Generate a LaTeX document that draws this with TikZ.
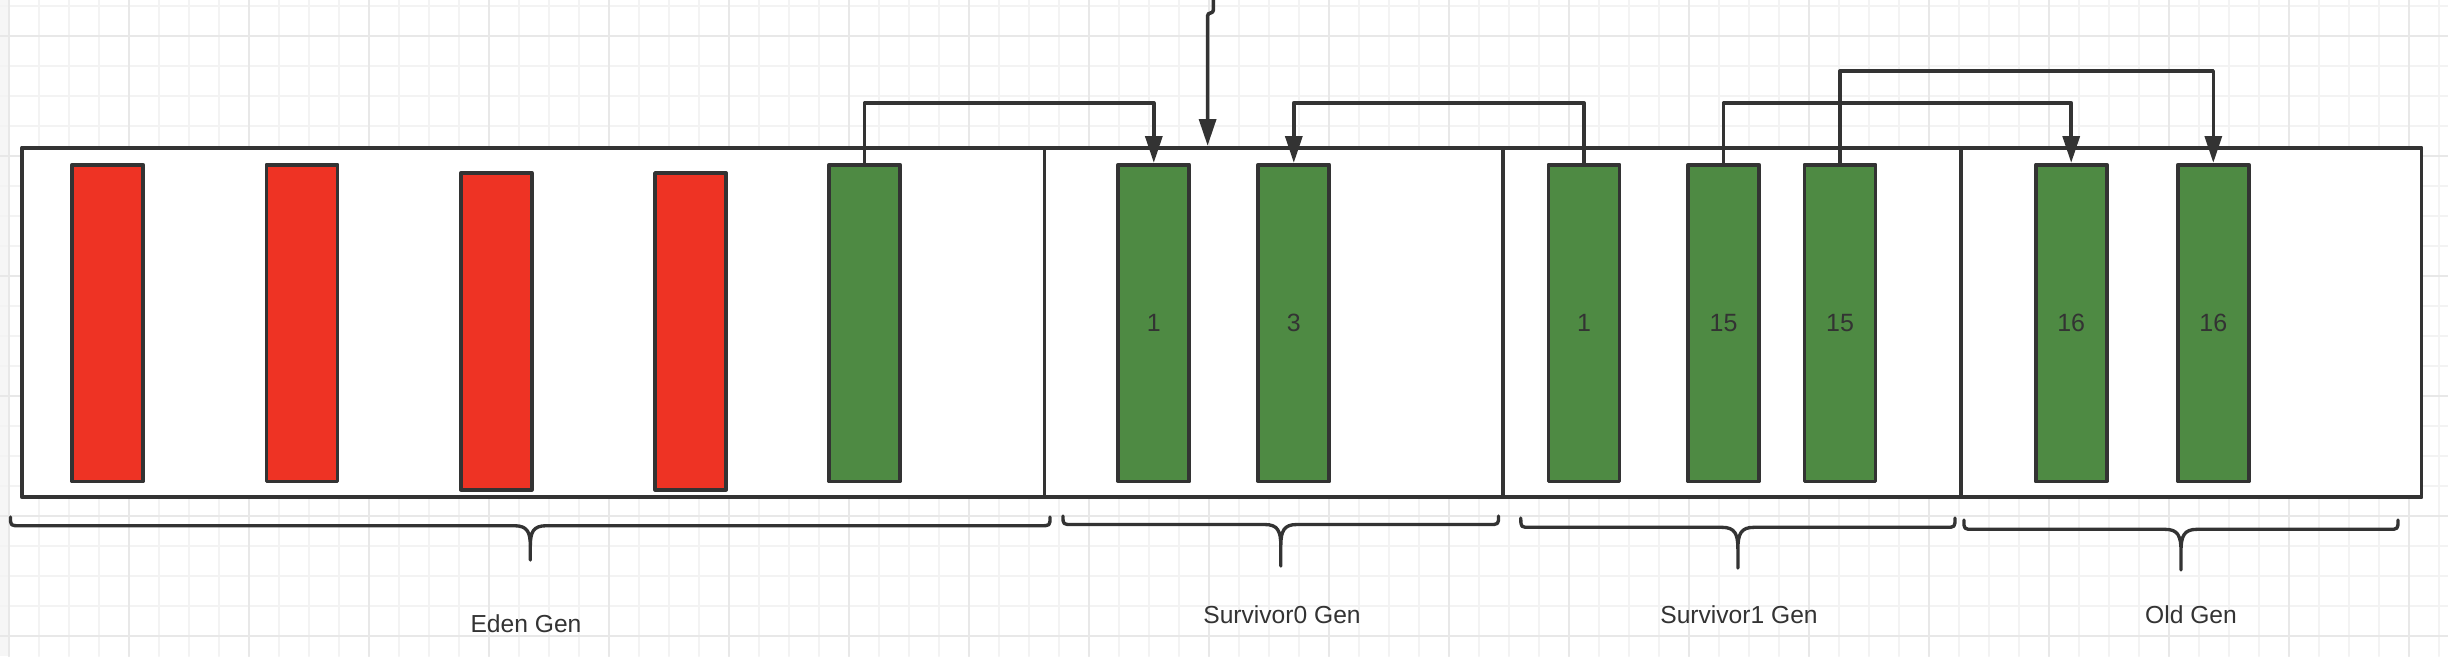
\documentclass[tikz,border=0pt]{standalone}
\usepackage{fontspec}
\setmainfont{Liberation Sans}
\usetikzlibrary{arrows.meta}
\definecolor{stroke}{RGB}{51,51,51}
\definecolor{deadred}{RGB}{238,51,36}
\definecolor{livegreen}{RGB}{78,138,67}
\definecolor{gridlight}{RGB}{243,243,243}
\definecolor{griddark}{RGB}{232,232,232}
\begin{document}
\begin{tikzpicture}[x=0.01cm,y=-0.01cm,line cap=round,line join=round,
  >={Triangle[length=7.6pt,width=4.8pt]},
  gridminor/.style={line width=0.55pt,draw=gridlight},
  gridmajor/.style={line width=0.6pt,draw=griddark},
  section/.style={draw=stroke,fill=white,line width=1.05pt,inner sep=0pt,minimum height=3.493cm},
  bar/.style={draw=stroke,line width=1.05pt,inner sep=0pt,minimum width=0.71cm,minimum height=3.165cm,text=stroke,font=\fontsize{7.1}{8}\selectfont},
  dead/.style={bar,fill=deadred},
  live/.style={bar,fill=livegreen},
  link/.style={draw=stroke,line width=1pt,->},
  brace/.style={draw=stroke,line width=0.95pt},
  genlabel/.style={text=stroke,font=\fontsize{7}{8}\selectfont}]
  \useasboundingbox (0,0) rectangle (2448,656);
  % grid paper
  \fill[white] (0,0) rectangle (2448,656);
  \fill[gray!7] (0,0) rectangle (8,656);
  \foreach \gx in {9.3,39.3,...,2440} \draw[gridminor] (\gx,0) -- (\gx,656);
  \foreach \gy in {6,36,...,650} \draw[gridminor] (0,\gy) -- (2448,\gy);
  \foreach \gx in {9.3,129.3,...,2440} \draw[gridmajor] (\gx,0) -- (\gx,656);
  \foreach \gy in {36,156,...,650} \draw[gridmajor] (0,\gy) -- (2448,\gy);
  % heap sections
  \node[section,minimum width=10.225cm] (eden) at (533.3,322.4) {};
  \node[section,minimum width=4.589cm] (surv0) at (1274,322.4) {};
  \node[section,minimum width=4.576cm] (surv1) at (1732.2,322.4) {};
  \node[section,minimum width=4.604cm] (old) at (2191.2,322.4) {};
  % objects
  \node[dead] (eden1) at (107.7,323) {};
  \node[dead] (eden2) at (302,323) {};
  \node[dead] (eden3) at (496.3,331.3) {};
  \node[dead] (eden4) at (690.6,331.3) {};
  \node[live] (eden5) at (864.6,323) {};
  \node[live] (s0a) at (1153.8,323) {1};
  \node[live] (s0b) at (1293.8,323) {3};
  \node[live] (s1a) at (1584,323) {1};
  \node[live] (s1b) at (1723.6,323) {15};
  \node[live] (s1c) at (1840,323) {15};
  \node[live] (olda) at (2071.2,323) {16};
  \node[live] (oldb) at (2213.3,323) {16};
  % copies
  \coordinate (feed) at (1213.3,0);
  \coordinate (feedbend) at (1207.6,13);
  \draw[link,rounded corners=0.8pt] (feed) |- (feedbend) -- (feedbend |- surv0.north);
  \draw[link] (eden5.north) -- ++(0,-60) -| (s0a.north);
  \draw[link] (s1a.north) -- ++(0,-60) -| (s0b.north);
  \draw[link] (s1b.north) -- ++(0,-60) -| (olda.north);
  \draw[link] (s1c.north) -- ++(0,-92) -| (oldb.north);
  % braces
  \draw[brace] (10.5,517) .. controls (10.5,525.7) .. (20,525.7) -- (514.3,525.7)
    .. controls (527.3,525.7) and (530.3,532) .. (530.3,546) -- (530.3,560)
    (1050,517) .. controls (1050,525.7) .. (1040.5,525.7) -- (546.3,525.7)
    .. controls (533.3,525.7) and (530.3,532) .. (530.3,546);
  \draw[brace] (1063,516) .. controls (1063,524.5) .. (1072.5,524.5) -- (1264.8,524.5)
    .. controls (1277.8,524.5) and (1280.8,531) .. (1280.8,546) -- (1280.8,566)
    (1498.5,516) .. controls (1498.5,524.5) .. (1489,524.5) -- (1296.8,524.5)
    .. controls (1283.8,524.5) and (1280.8,531) .. (1280.8,546);
  \draw[brace] (1520.8,518) .. controls (1520.8,527.3) .. (1530.3,527.3) -- (1721.9,527.3)
    .. controls (1734.9,527.3) and (1737.9,534) .. (1737.9,549) -- (1737.9,568)
    (1955,518) .. controls (1955,527.3) .. (1945.5,527.3) -- (1753.9,527.3)
    .. controls (1740.9,527.3) and (1737.9,534) .. (1737.9,549);
  \draw[brace] (1963.9,520) .. controls (1963.9,529.3) .. (1973.4,529.3) -- (2165,529.3)
    .. controls (2178,529.3) and (2181,536) .. (2181,551) -- (2181,570)
    (2398,520) .. controls (2398,529.3) .. (2388.5,529.3) -- (2197,529.3)
    .. controls (2184,529.3) and (2181,536) .. (2181,551);
  % labels
  \node[genlabel] (edenlbl) at (526,624) {Eden Gen};
  \node[genlabel] (surv0lbl) at (1282,615) {Survivor0 Gen};
  \node[genlabel] (surv1lbl) at (1739,615) {Survivor1 Gen};
  \node[genlabel] (oldlbl) at (2191,615) {Old Gen};
\end{tikzpicture}
\end{document}
